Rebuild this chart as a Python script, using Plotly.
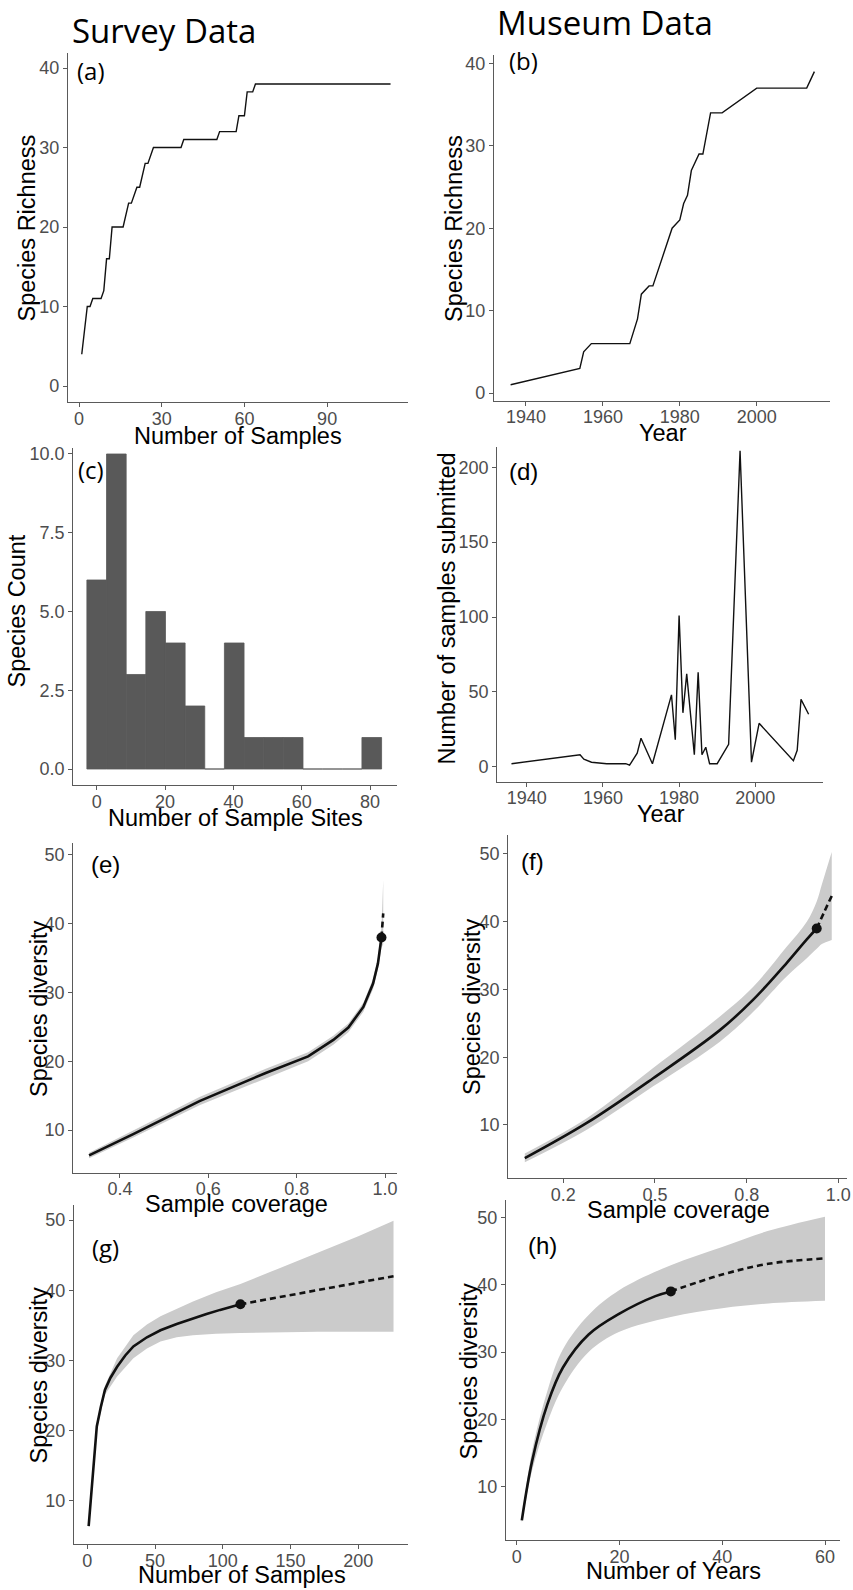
import plotly.graph_objects as go

W, H = 853, 1590

# ---------------- (a) Survey: species accumulation ----------------
samples_a = [1, 2, 3, 4, 5, 8, 9, 10, 11, 12, 16, 18, 19, 21, 22, 24, 25, 27, 37, 38, 50, 51, 57, 58, 60, 61, 63, 64, 113]
richness_a = [4, 7, 10, 10, 11, 11, 12, 16, 16, 20, 20, 23, 23, 25, 25, 28, 28, 30, 30, 31, 31, 32, 32, 34, 34, 37, 37, 38, 38]

# ---------------- (b) Museum: species accumulation by year ----------------
years_b = [1936, 1954, 1955, 1957, 1967, 1969, 1970, 1972, 1973, 1978, 1980, 1981, 1982, 1983, 1985, 1986, 1988, 1991, 2000, 2013, 2014, 2015]
richness_b = [1, 3, 5, 6, 6, 9, 12, 13, 13, 20, 21, 23, 24, 27, 29, 29, 34, 34, 37, 37, 38, 39]

# ---------------- (c) Histogram of sample sites per species ----------------
bin_centers_c = [0, 5.75, 11.5, 17.25, 23, 28.75, 34.5, 40.25, 46, 51.75, 57.5, 63.25, 69, 74.75, 80.5]
counts_c = [6, 10, 3, 5, 4, 2, 0, 4, 1, 1, 1, 0, 0, 0, 1]
binwidth_c = 5.75

# ---------------- (d) Museum samples submitted per year ----------------
years_d = [1936, 1954, 1955, 1957, 1961, 1966, 1967, 1969, 1970, 1973, 1978, 1979, 1980, 1981, 1982, 1984, 1985, 1986, 1987, 1988, 1990, 1993, 1996, 1999, 2001, 2010, 2011, 2012, 2014]
samples_d = [2, 8, 5, 3, 2, 2, 1, 9, 19, 2, 48, 18, 101, 36, 62, 8, 63, 8, 13, 2, 2, 15, 211, 3, 29, 4, 11, 45, 35]

# ---------------- (e) Survey: coverage-based curve ----------------
cov_int_e = [0.33, 0.43, 0.58, 0.73, 0.826, 0.883, 0.917, 0.951, 0.973, 0.984, 0.992]
div_int_e = [6.3, 9.4, 14.2, 18.3, 20.7, 23.1, 24.9, 27.9, 31.3, 34.2, 38.0]
cov_ext_e = [0.992, 0.996]
div_ext_e = [38.0, 41.5]
cov_band_e = [0.33, 0.43, 0.58, 0.73, 0.826, 0.883, 0.917, 0.951, 0.973, 0.984, 0.992, 0.996]
upper_e = [6.7, 9.9, 14.8, 18.9, 21.3, 23.7, 25.5, 28.5, 32.0, 35.0, 39.5, 46.4]
lower_e = [5.9, 8.9, 13.6, 17.5, 20.0, 22.4, 24.2, 27.2, 30.5, 33.4, 36.5, 37.0]
obs_e = (0.992, 38)

# ---------------- (f) Museum: coverage-based curve ----------------
cov_int_f = [0.145, 0.314, 0.495, 0.677, 0.768, 0.859, 0.914, 0.941]
div_int_f = [5.1, 10.3, 16.9, 24.0, 28.5, 33.9, 37.4, 39.0]
cov_ext_f = [0.941, 0.962, 0.982]
div_ext_f = [39.0, 41.5, 43.8]
cov_band_f = [0.145, 0.314, 0.495, 0.677, 0.768, 0.859, 0.914, 0.941, 0.955, 0.982]
upper_f = [5.8, 11.0, 18.4, 26.0, 30.4, 36.3, 40.0, 43.0, 45.5, 50.3]
lower_f = [4.5, 9.3, 15.7, 22.3, 26.7, 31.9, 34.6, 36.0, 36.7, 37.3]
obs_f = (0.941, 39)

# ---------------- (g) Survey: sample-size based curve ----------------
n_int_g = [1, 7, 10, 13, 17, 22, 28, 34, 44, 54, 66, 78, 88, 98, 113]
div_int_g = [6.4, 20.6, 23.4, 25.8, 27.5, 29.1, 30.7, 32.0, 33.3, 34.3, 35.2, 36.0, 36.6, 37.2, 38.0]
n_ext_g = [113, 170, 226]
div_ext_g = [38.0, 40.0, 42.0]
n_band_g = [1, 7, 13, 22, 34, 44, 54, 66, 78, 95, 113, 140, 170, 200, 226]
upper_g = [6.6, 21.1, 26.4, 30.3, 33.6, 35.1, 36.3, 37.4, 38.4, 39.7, 40.9, 43.0, 45.4, 47.7, 49.9]
lower_g = [6.2, 20.1, 25.1, 27.7, 30.3, 31.7, 32.7, 33.3, 33.6, 33.8, 33.9, 34.0, 34.1, 34.1, 34.1]
obs_g = (113, 38)

# ---------------- (h) Museum: years-based curve ----------------
n_int_h = [1, 3, 6, 9, 14, 20, 27, 30]
div_int_h = [5.0, 13.8, 22.3, 27.7, 32.6, 35.7, 38.3, 39.0]
n_ext_h = [30, 40, 49, 60]
div_ext_h = [39.0, 41.5, 43.1, 43.9]
n_band_h = [1, 3, 6, 9, 14, 20, 30, 40, 49, 60]
upper_h = [5.4, 15.3, 24.3, 30.4, 35.5, 39.2, 42.9, 45.6, 48.0, 50.1]
lower_h = [4.6, 12.4, 19.6, 24.8, 30.0, 33.0, 35.2, 36.5, 37.2, 37.6]
obs_h = (30, 39)

# ---------------- layout helpers ----------------
AXC = "#5a5a5a"
TICKFONT = dict(family="Liberation Sans", size=18, color="#4D4D4D")
LINEC = "#111111"


def xd(p0, p1):
    return [p0 / W, p1 / W]


def yd(top, bottom):
    return [1 - bottom / H, 1 - top / H]


def axis(domain, rng, tickvals, anchor, ticktext=None, standoff=0):
    d = dict(domain=domain, range=rng, anchor=anchor, showline=True, linecolor=AXC,
             linewidth=1.2, ticks="outside", ticklen=4, tickwidth=1.1, tickcolor=AXC,
             tickvals=tickvals, tickfont=TICKFONT, showgrid=False, zeroline=False,
             fixedrange=True, automargin=False, ticklabelstandoff=standoff)
    if ticktext is not None:
        d["ticktext"] = ticktext
    return d


panels = {
    1: dict(xdom=xd(68, 408), ydom=yd(53, 402), xr=[-3.99, 119.33], yr=[-2.01, 41.89],
            xt=[0, 30, 60, 90], yt=[0, 10, 20, 30, 40]),
    2: dict(xdom=xd(494, 830), ydom=yd(55, 400.7), xr=[1931.68, 2019.06], yr=[-0.93, 41.02],
            xt=[1940, 1960, 1980, 2000], yt=[0, 10, 20, 30, 40]),
    3: dict(xdom=xd(73.3, 396.7), ydom=yd(448, 785), xr=[-6.85, 87.8], yr=[-0.508, 10.19],
            xt=[0, 20, 40, 60, 80], yt=[0, 2.5, 5, 7.5, 10], ytt=["0.0", "2.5", "5.0", "7.5", "10.0"]),
    4: dict(xdom=xd(497.3, 823.3), ydom=yd(446.7, 781.7), xr=[1932.28, 2017.85], yr=[-10.02, 213.76],
            xt=[1940, 1960, 1980, 2000], yt=[0, 50, 100, 150, 200]),
    5: dict(xdom=xd(73.3, 396.7), ydom=yd(843.3, 1172.7), xr=[0.2943, 1.0265], yr=[3.79, 51.70],
            xt=[0.4, 0.6, 0.8, 1.0], xtt=["0.4", "0.6", "0.8", "1.0"], yt=[10, 20, 30, 40, 50]),
    6: dict(xdom=xd(508.3, 846.7), ydom=yd(835, 1178.3), xr=[0.1, 1.0228], yr=[2.13, 52.80],
            xt=[0.25, 0.5, 0.75, 1.0], xtt=["0.2", "0.5", "0.8", "1.0"], yt=[10, 20, 30, 40, 50]),
    7: dict(xdom=xd(74, 408.3), ydom=yd(1205, 1544), xr=[-9.82, 236.9], yr=[3.85, 52.14],
            xt=[0, 50, 100, 150, 200], yt=[10, 20, 30, 40, 50]),
    8: dict(xdom=xd(506, 840), ydom=yd(1200, 1540), xr=[-2.08, 62.92], yr=[2.09, 52.57],
            xt=[0, 20, 40, 60], yt=[10, 20, 30, 40, 50]),
}

layout = dict(width=W, height=H, autosize=False, margin=dict(l=0, r=0, t=0, b=0, pad=0),
              paper_bgcolor="white", plot_bgcolor="white", showlegend=False)
for i, p in panels.items():
    sx = "" if i == 1 else str(i)
    layout["xaxis" + sx] = axis(p["xdom"], p["xr"], p["xt"], "y" + sx, p.get("xtt"), standoff=-4)
    layout["yaxis" + sx] = axis(p["ydom"], p["yr"], p["yt"], "x" + sx, p.get("ytt"))

fig = go.Figure(layout=layout)


def ax(i):
    s = "" if i == 1 else str(i)
    return dict(xaxis="x" + s, yaxis="y" + s)


# (a), (b), (d) simple lines, (c) histogram
fig.add_trace(go.Scatter(x=samples_a, y=richness_a, mode="lines",
                         line=dict(color=LINEC, width=1.4), **ax(1)))
fig.add_trace(go.Scatter(x=years_b, y=richness_b, mode="lines",
                         line=dict(color=LINEC, width=1.4), **ax(2)))
fig.add_trace(go.Bar(x=bin_centers_c, y=counts_c, width=binwidth_c,
                     marker=dict(color="#595959", line=dict(width=0.8, color="#595959")), **ax(3)))
fig.add_trace(go.Scatter(x=years_d, y=samples_d, mode="lines",
                         line=dict(color=LINEC, width=1.4), **ax(4)))


def rarefaction(i, bx, lo, up, xi, yi, xe, ye, obs, shape):
    fig.add_trace(go.Scatter(x=bx, y=lo, mode="lines",
                             line=dict(width=0, color="rgba(0,0,0,0)", shape=shape), **ax(i)))
    fig.add_trace(go.Scatter(x=bx, y=up, mode="lines", fill="tonexty", fillcolor="#CBCBCB",
                             line=dict(width=0, color="rgba(0,0,0,0)", shape=shape), **ax(i)))
    fig.add_trace(go.Scatter(x=xi, y=yi, mode="lines",
                             line=dict(color=LINEC, width=2.6, shape=shape), **ax(i)))
    fig.add_trace(go.Scatter(x=xe, y=ye, mode="lines",
                             line=dict(color=LINEC, width=2.6, dash="6px,4px", shape=shape), **ax(i)))
    fig.add_trace(go.Scatter(x=[obs[0]], y=[obs[1]], mode="markers",
                             marker=dict(color=LINEC, size=10), **ax(i)))


rarefaction(5, cov_band_e, lower_e, upper_e, cov_int_e, div_int_e, cov_ext_e, div_ext_e, obs_e, "linear")
rarefaction(6, cov_band_f, lower_f, upper_f, cov_int_f, div_int_f, cov_ext_f, div_ext_f, obs_f, "spline")
rarefaction(7, n_band_g, lower_g, upper_g, n_int_g, div_int_g, n_ext_g, div_ext_g, obs_g, "linear")
rarefaction(8, n_band_h, lower_h, upper_h, n_int_h, div_int_h, n_ext_h, div_ext_h, obs_h, "spline")

# ---------------- text ----------------
annotations = []


def note(text, px, py, size, family="Liberation Sans", angle=0, color="black"):
    annotations.append(dict(text=text, x=px / W, y=1 - py / H, xref="paper", yref="paper",
                            showarrow=False, xanchor="center", yanchor="middle",
                            textangle=angle, font=dict(family=family, size=size, color=color)))


note("Survey Data", 163.5, 30.5, 33, "Open Sans")
note("Museum Data", 605, 22.5, 33, "Open Sans")

for lab, px, py, fam in [("(a)", 90.5, 71, "Open Sans"), ("(b)", 523, 61, "Open Sans"),
                         ("(c)", 91, 470, "Open Sans"), ("(d)", 523, 471, "Liberation Sans"),
                         ("(e)", 105, 864, "Liberation Sans"), ("(f)", 532, 861, "Liberation Sans"),
                         ("(g)", 105, 1247, "Open Sans"), ("(h)", 542, 1245, "Liberation Sans")]:
    note(lab, px, py, 24, fam)

for t, px, py in [("Number of Samples", 238.5, 435.5), ("Year", 662.5, 433),
                  ("Number of Sample Sites", 235, 818), ("Year", 661, 813.5),
                  ("Sample coverage", 236, 1203.5), ("Sample coverage", 678, 1209.5),
                  ("Number of Samples", 242, 1574.5), ("Number of Years", 673, 1571)]:
    note(t, px, py, 23.5)

for t, px, py in [("Species Richness", 26.5, 228), ("Species Richness", 453.5, 228.5),
                  ("Species Count", 16.5, 611), ("Number of samples submitted", 446.5, 609),
                  ("Species diversity", 38.5, 1008.5), ("Species diversity", 471.5, 1006.5),
                  ("Species diversity", 38.5, 1375), ("Species diversity", 468.5, 1371)]:
    note(t, px, py, 23.5, angle=-90)

fig.update_layout(annotations=annotations)

fig.write_html("out.html", config={"displayModeBar": False},
               post_script="document.body.style.margin='0px';document.body.style.padding='0px';"
                           "document.documentElement.style.overflow='hidden';document.body.style.overflow='hidden';")
